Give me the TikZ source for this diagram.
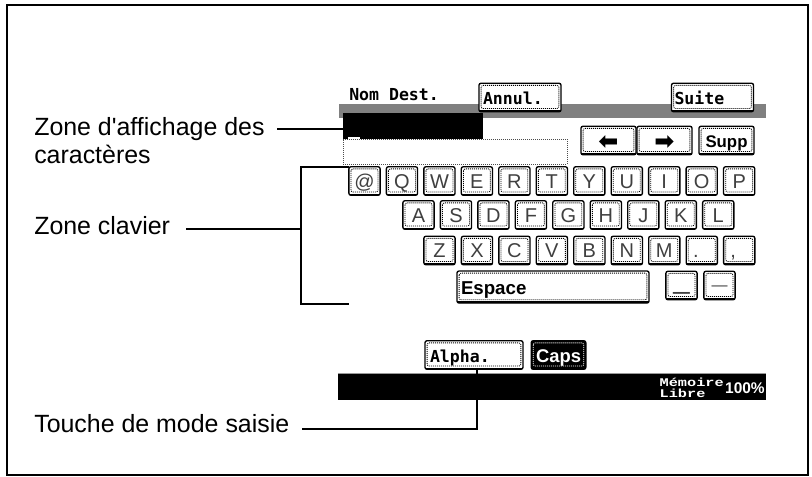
\documentclass[tikz,border=0pt]{standalone}
\usepackage{fontspec}
\setmainfont{Liberation Sans}
\setmonofont{DejaVu Sans Mono}
\newfontfamily\symbfont{DejaVu Sans}
\newfontfamily\memfont[FakeStretch=1.3]{Liberation Mono}
\usetikzlibrary{positioning,chains,calc}
\tikzset{
	dotcol/.initial=black,
	keybtn/.style={
		rectangle,
		rounded corners=1.5pt,
		minimum width=23.4pt,
		minimum height=21.4pt,
		inner sep=0pt,
		outer sep=0pt,
		text height=10.8pt,
		text depth=0pt,
		align=center,
		draw=black,
		line width=1pt,
		fill=white,
		font=\fontsize{15pt}{15pt}\selectfont\color{black!75},
		path picture={
			\draw[black,line width=2.4pt] (path picture bounding box.south west) -- (path picture bounding box.south east);
			\draw[\pgfkeysvalueof{/tikz/dotcol},line width=0.6pt,dash pattern=on 0.75pt off 0.75pt] ([shift={(1.6pt,-1.6pt)}]path picture bounding box.north west) rectangle ([shift={(-1.6pt,2.4pt)}]path picture bounding box.south east);
		}
	},
	cmdbtn/.style={
		keybtn,
		align=left,
		font=\fontsize{12.4pt}{12.4pt}\ttfamily\bfseries\selectfont,
		text=black
	},
	textlabel/.style={
		anchor=base west,
		inner sep=0pt,
		align=left,
		font=\fontsize{18.7pt}{21pt}\selectfont
	},
	leader/.style={line width=1.2pt,black},
}

\begin{document}
\begin{tikzpicture}[x=0.75pt,y=-0.75pt]
	\useasboundingbox (0,0) rectangle (812,476);
	\node (frame) [draw=black,line width=1.5pt,minimum width=600.75pt,minimum height=352.5pt,inner sep=0pt,outer sep=0pt] at (407,240) {};

	% screen background
	\node (stripe) [fill=black!50,minimum width=320.25pt,minimum height=10.5pt,inner sep=0pt] at (552.5,111) {};
	\node (field) [fill=black,minimum width=105pt,minimum height=19.5pt,inner sep=0pt] at (413,126) {};
	\node (cursor) [fill=white,minimum width=9pt,minimum height=2.2pt,inner sep=0pt] at (354,138) {};
	\node (input) [draw=black!70,densely dotted,line width=0.5pt,minimum width=168pt,minimum height=18.75pt,inner sep=0pt] at (455,151.5) {};
	\node (bar) [fill=black,minimum width=321pt,minimum height=19.5pt,inner sep=0pt] at (552,387) {};
	\draw [black!40,line width=0.75pt] (bar.north west) -- (bar.north east);

	\node (title) [anchor=base west,inner sep=0pt,font=\fontsize{12.4pt}{12.4pt}\ttfamily\bfseries\selectfont] at (349,100) {Nom Dest.};
	\node (annul) [cmdbtn,minimum width=61.5pt,text width=55.5pt] at (520,97.5) {Annul.};
	\node (suite) [cmdbtn,minimum width=61.5pt,text width=57pt] at (712.5,97.5) {Suite};
	\node (left) [cmdbtn,minimum width=41.25pt,text height=14pt,align=center] at (608.5,140.5) {\symbfont\fontsize{18pt}{18pt}\selectfont ⬅};
	\node (right) [cmdbtn,minimum width=41.25pt,text height=14pt,align=center] at (664.5,140.5) {\symbfont\fontsize{18pt}{18pt}\selectfont ➡};
	\node (supp) [cmdbtn,minimum width=41.25pt,align=center,font=\fontsize{12.6pt}{12.6pt}\selectfont\bfseries] at (726.5,140.5) {Supp};

	% keyboard rows
	\begin{scope}[start chain=rowa going right,node distance=4.7pt]
		\node (keyat) [keybtn,on chain] at (364.5,181) {@};
		\node (keyQ) [keybtn,on chain] {Q};
		\node (keyW) [keybtn,on chain] {W};
		\node (keyE) [keybtn,on chain] {E};
		\node (keyR) [keybtn,on chain] {R};
		\node (keyT) [keybtn,on chain] {T};
		\node (keyY) [keybtn,on chain] {Y};
		\node (keyU) [keybtn,on chain] {U};
		\node (keyI) [keybtn,on chain] {I};
		\node (keyO) [keybtn,on chain] {O};
		\node (keyP) [keybtn,on chain] {P};
	\end{scope}
	\begin{scope}[start chain=rowb going right,node distance=4.7pt]
		\node (keyA) [keybtn,on chain] at (418.5,215) {A};
		\node (keyS) [keybtn,on chain] {S};
		\node (keyD) [keybtn,on chain] {D};
		\node (keyF) [keybtn,on chain] {F};
		\node (keyG) [keybtn,on chain] {G};
		\node (keyH) [keybtn,on chain] {H};
		\node (keyJ) [keybtn,on chain] {J};
		\node (keyK) [keybtn,on chain] {K};
		\node (keyL) [keybtn,on chain] {L};
	\end{scope}
	\begin{scope}[start chain=rowc going right,node distance=4.7pt]
		\node (keyZ) [keybtn,on chain] at (439.5,250.5) {Z};
		\node (keyX) [keybtn,on chain] {X};
		\node (keyC) [keybtn,on chain] {C};
		\node (keyV) [keybtn,on chain] {V};
		\node (keyB) [keybtn,on chain] {B};
		\node (keyN) [keybtn,on chain] {N};
		\node (keyM) [keybtn,on chain] {M};
		\node (keydot) [keybtn,on chain] {.\hspace*{9pt}};
		\node (keycomma) [keybtn,on chain] {,\hspace*{9pt}};
	\end{scope}
	\node (espace) [cmdbtn,minimum width=144pt,minimum height=24pt,text width=138pt,font=\fontsize{14pt}{14pt}\selectfont\bfseries] at (553,287) {Espace};
	\node (under) [keybtn] at (681.5,285.5) {\fontsize{22pt}{22pt}\selectfont\raisebox{2.8pt}{\_}};
	\node (minus) [keybtn] at (719.5,285.5) {\fontsize{12pt}{12pt}\selectfont\raisebox{1.4pt}{—}};

	\node (alpha) [cmdbtn,minimum width=73.5pt,text width=66pt] at (474,355) {Alpha.};
	\node (caps) [cmdbtn,dotcol=white,minimum width=41pt,align=center,fill=black,text=white,font=\fontsize{13.8pt}{13.8pt}\selectfont\bfseries] at (558.5,355) {Caps};

	\node (memoire) [anchor=east,inner sep=0pt,align=left,text=white,font=\fontsize{8.8pt}{8.2pt}\memfont\bfseries\selectfont] at (724,388) {Mémoire\\Libre};
	\node (percent) [anchor=east,inner sep=0pt,text=white,font=\fontsize{11.6pt}{11.6pt}\bfseries\selectfont] at (765,388) {100\%};

	% labels
	\node (zoneaff) [textlabel] at (34,163) {Zone d\textquotesingle affichage des\\caractères};
	\node (zonecla) [textlabel] at (34,234) {Zone clavier};
	\node (zonemod) [textlabel] at (34,432) {Touche de mode saisie};

	\coordinate (affend) at (277,129);
	\coordinate (claend) at (186,229);
	\coordinate (modend) at (302,429);
	\coordinate (modtop) at (477,370);
	\coordinate (clatop) at (349,167);
	\coordinate (clabot) at (349,304);
	\coordinate (clamid) at (301,229);
	\draw [leader] (affend) -- (field.west |- affend);
	\draw [leader] (clatop) -| (clamid) |- (clabot);
	\draw [leader] (claend) -- (clamid);
	\draw [leader] (modtop) |- (modend);
\end{tikzpicture}
\end{document}
